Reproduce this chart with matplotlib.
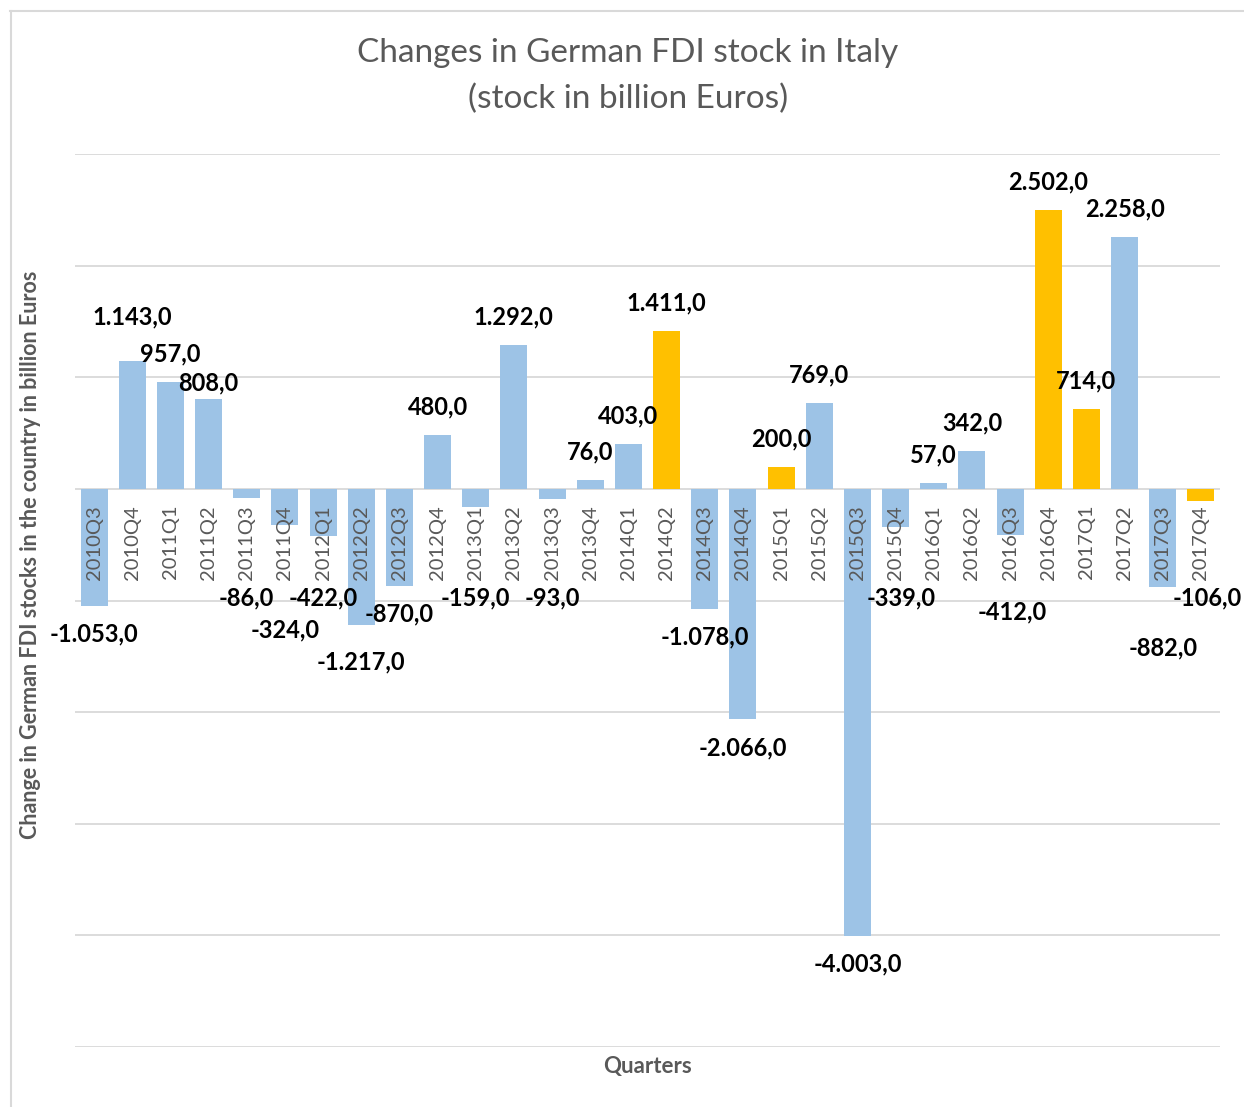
import matplotlib.pyplot as plt
from matplotlib.lines import Line2D

quarters = ['2010Q3', '2010Q4', '2011Q1', '2011Q2', '2011Q3', '2011Q4',
            '2012Q1', '2012Q2', '2012Q3', '2012Q4', '2013Q1', '2013Q2',
            '2013Q3', '2013Q4', '2014Q1', '2014Q2', '2014Q3', '2014Q4',
            '2015Q1', '2015Q2', '2015Q3', '2015Q4', '2016Q1', '2016Q2',
            '2016Q3', '2016Q4', '2017Q1', '2017Q2', '2017Q3', '2017Q4']
changes = [-1053, 1143, 957, 808, -86, -324,
           -422, -1217, -870, 480, -159, 1292,
           -93, 76, 403, 1411, -1078, -2066,
           200, 769, -4003, -339, 57, 342,
           -412, 2502, 714, 2258, -882, -106]
highlighted = ['2014Q2', '2015Q1', '2016Q4', '2017Q1', '2017Q4']

BLUE = '#9DC3E6'
ORANGE = '#FFC000'
GRAY = '#595959'
GRID = '#D9D9D9'
PX = 0.72  # points per pixel at dpi 100

# label nudges in pixels (dx, dy), positive dy = down
nudge = {'2010Q4': (0, -16), '2011Q2': (0, 12), '2011Q4': (0, 32),
         '2012Q2': (0, 9), '2016Q3': (2, 14), '2017Q3': (0, 33),
         '2017Q4': (6, 0), '2015Q4': (6, 0)}

plt.rcParams['font.family'] = ['Lato', 'DejaVu Sans']

fig = plt.figure(figsize=(12.44, 11.07), dpi=100)
ax = fig.add_axes([75 / 1244, 60 / 1107, 1145 / 1244, 893 / 1107])

x = list(range(len(quarters)))
colors = [ORANGE if q in highlighted else BLUE for q in quarters]
ax.bar(x, changes, width=0.71, color=colors, zorder=2)

ax.set_xlim(-0.5, len(quarters) - 0.5)
ax.set_ylim(-5000, 3000)
ax.set_yticks(range(-5000, 3001, 1000))
ax.grid(axis='y', color=GRID, linewidth=1.3, zorder=0)
ax.tick_params(left=False, bottom=False, labelleft=False, labelbottom=False)
for s in ax.spines.values():
    s.set_visible(False)

# category labels inside the plot, just under the zero line
for i, q in enumerate(quarters):
    ax.annotate(q, (i, 0), xytext=(0, -16 * PX), textcoords='offset points',
                rotation=90, ha='center', va='top', fontsize=14.5,
                color=GRAY, zorder=3)

# value labels
for i, (q, v) in enumerate(zip(quarters, changes)):
    dx, dy = nudge.get(q, (0, 0))
    txt = f'{abs(v):,.1f}'.replace(',', 'X').replace('.', ',').replace('X', '.')
    if v < 0:
        txt = '-' + txt
        y = min(v, -730)
        off = -28 - dy
    else:
        y = v
        off = 28 - dy
    ax.annotate(txt, (i, y), xytext=(dx * PX, off * PX), textcoords='offset points',
                ha='center', va='center', fontsize=17, fontweight='bold',
                color='black', zorder=4)

fig.text(628 / 1244, 1 - 53 / 1107, 'Changes in German FDI stock in Italy',
         ha='center', va='center', fontsize=24, color=GRAY)
fig.text(628 / 1244, 1 - 99 / 1107, '(stock in billion Euros)',
         ha='center', va='center', fontsize=24, color=GRAY)
fig.text(31 / 1244, 1 - 555 / 1107,
         'Change in German FDI stocks in the country in billion Euros',
         rotation=90, ha='center', va='center', fontsize=15.5,
         fontweight='bold', color=GRAY)
fig.text(647 / 1244, 1 - 1067 / 1107, 'Quarters', ha='center', va='center',
         fontsize=16, fontweight='bold', color=GRAY)

# chart border (left and top edges visible)
fig.add_artist(Line2D([10.5 / 1244, 10.5 / 1244], [0, 1 - 11 / 1107],
                      transform=fig.transFigure, color=GRID, linewidth=1.5))
fig.add_artist(Line2D([10 / 1244, 1], [1 - 11 / 1107, 1 - 11 / 1107],
                      transform=fig.transFigure, color=GRID, linewidth=1.5))

fig.savefig('out.png', dpi=100)
